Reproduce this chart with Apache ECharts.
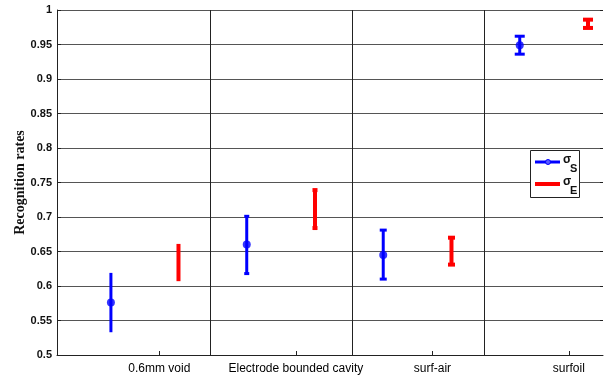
<!DOCTYPE html>
<html>
<head>
<meta charset="utf-8">
<script src="https://cdn.jsdelivr.net/npm/echarts@6/dist/echarts.min.js"></script>
<style>html,body{margin:0;padding:0;background:#fff}#c{width:610px;height:377px}</style>
</head>
<body>
<div id="c"></div>
<script>
// ---- data ----
var categories = ['0.6mm void', 'Electrode bounded cavity', 'surf-air', 'surfoil'];
var categoryPos = [1, 2, 3, 4];
var separators = [1.372, 2.41, 3.38];
// sigma_S (blue)
var sPos  = [0.645, 1.64, 2.64, 3.64];
var sMean = [0.576, 0.660, 0.645, 0.949];
var sLow  = [0.533, 0.618, 0.610, 0.936];
var sHigh = [0.619, 0.701, 0.681, 0.962];
// sigma_E (red)
var ePos  = [1.14, 2.14, 3.14, 4.14];
var eLow  = [0.607, 0.684, 0.631, 0.974];
var eHigh = [0.661, 0.739, 0.670, 0.986];
var yTicks = [0.5, 0.55, 0.6, 0.65, 0.7, 0.75, 0.8, 0.85, 0.9, 0.95, 1];

// ---- styles (not data) ----
var capS = [0, 5, 7, 10];
var capE = [0, 5, 7, 10];

function errData(pos, low, high) {
  return pos.map(function (p, i) { return [p, low[i], high[i], i]; });
}
function errRender(color, lw, caps) {
  return function (params, api) {
    var x = api.value(0), lo = api.value(1), hi = api.value(2), idx = api.value(3);
    var pLo = api.coord([x, lo]), pHi = api.coord([x, hi]);
    var cw = caps[idx] / 2;
    var style = { stroke: color, lineWidth: lw };
    var children = [
      { type: 'line', shape: { x1: pLo[0], y1: pLo[1], x2: pHi[0], y2: pHi[1] }, style: style }
    ];
    if (cw > 0) {
      children.push({ type: 'line', shape: { x1: pHi[0] - cw, y1: pHi[1], x2: pHi[0] + cw, y2: pHi[1] }, style: style });
      children.push({ type: 'line', shape: { x1: pLo[0] - cw, y1: pLo[1], x2: pLo[0] + cw, y2: pLo[1] }, style: style });
    }
    return { type: 'group', children: children };
  };
}

var chart = echarts.init(document.getElementById('c'), null, { renderer: 'canvas' });
var tickFont = { fontFamily: 'Liberation Sans, Arial, sans-serif', fontSize: 11, fontWeight: 'bold', color: '#111' };
chart.setOption({
  animation: false,
  backgroundColor: '#fff',
  grid: { left: 57, right: 7, top: 10, bottom: 22 },
  xAxis: {
    type: 'value', min: 0.25, max: 4.25,
    axisLine: { show: true, onZero: false, lineStyle: { color: '#222', width: 1 } },
    axisTick: { show: true, inside: true, length: 4, customValues: categoryPos, lineStyle: { color: '#222' } },
    axisLabel: {
      show: true, customValues: categoryPos, margin: 8,
      formatter: function (v) { var i = categoryPos.indexOf(Math.round(v)); return i >= 0 ? categories[i] : ''; },
      fontFamily: 'Liberation Sans, Arial, sans-serif', fontSize: 12, color: '#000'
    },
    splitLine: { show: false }
  },
  yAxis: [{
    type: 'value', min: 0.5, max: 1, interval: 0.05,
    name: 'Recognition rates', nameLocation: 'middle', nameGap: 37, nameRotate: 90, nameMoveOverlap: false,
    nameTextStyle: { fontFamily: 'Liberation Serif, Times New Roman, serif', fontSize: 14, fontWeight: 'bold', color: '#111', verticalAlign: 'middle' },
    axisLine: { show: true, lineStyle: { color: '#222' } },
    axisTick: { show: true, inside: true, length: 4, lineStyle: { color: '#222' } },
    axisLabel: Object.assign({ margin: 5, formatter: function (v) { return String(+v.toFixed(2)); } }, tickFont),
    splitLine: { show: true, lineStyle: { color: '#555', width: 1 } }
  }, {
    type: 'value', min: 0.5, max: 1, interval: 0.05, position: 'right',
    axisLine: { show: false },
    axisTick: { show: true, inside: true, length: 3, lineStyle: { color: '#222' } },
    axisLabel: { show: false },
    splitLine: { show: false }
  }],
  series: [
    {
      type: 'custom', name: 'sepLines', silent: true,
      renderItem: function () { return null; }, data: [],
      markLine: {
        silent: true, symbol: 'none', label: { show: false },
        lineStyle: { color: '#222', width: 1, type: 'solid' },
        data: separators.map(function (s) { return { xAxis: s }; })
      }
    },
    {
      type: 'custom', name: 'σS', renderItem: errRender('#0000ff', 3, capS),
      encode: { x: 0, y: [1, 2] }, data: errData(sPos, sLow, sHigh), z: 3
    },
    {
      type: 'scatter', name: 'σS mean', symbol: 'circle', symbolSize: 8,
      itemStyle: { color: '#0000ff' }, z: 4,
      data: sPos.map(function (p, i) { return [p, sMean[i]]; })
    },
    {
      type: 'custom', name: 'σE', renderItem: errRender('#ff0000', 4, capE),
      encode: { x: 0, y: [1, 2] }, data: errData(ePos, eLow, eHigh), z: 3
    }
  ],
  graphic: [
    { type: 'rect', shape: { x: 530.5, y: 150.5, width: 49, height: 47 }, style: { fill: '#fff', stroke: '#222', lineWidth: 1 }, z: 10 },
    { type: 'line', shape: { x1: 535, y1: 162, x2: 560, y2: 162 }, style: { stroke: '#0000ff', lineWidth: 3 }, z: 11 },
    { type: 'circle', shape: { cx: 548, cy: 162, r: 2.5 }, style: { fill: '#5a5aff', stroke: '#0000ff', lineWidth: 1 }, z: 12 },
    { type: 'line', shape: { x1: 535, y1: 184, x2: 560, y2: 184 }, style: { stroke: '#ff0000', lineWidth: 4 }, z: 11 },
    { type: 'text', x: 563, y: 154, style: { text: 'σ', font: 'bold 12px Liberation Sans, Arial', fill: '#111' }, z: 12 },
    { type: 'text', x: 570, y: 163, style: { text: 'S', font: 'bold 11px Liberation Sans, Arial', fill: '#111' }, z: 12 },
    { type: 'text', x: 563, y: 176, style: { text: 'σ', font: 'bold 12px Liberation Sans, Arial', fill: '#111' }, z: 12 },
    { type: 'text', x: 570, y: 185, style: { text: 'E', font: 'bold 11px Liberation Sans, Arial', fill: '#111' }, z: 12 }
  ]
});
</script>
</body>
</html>
